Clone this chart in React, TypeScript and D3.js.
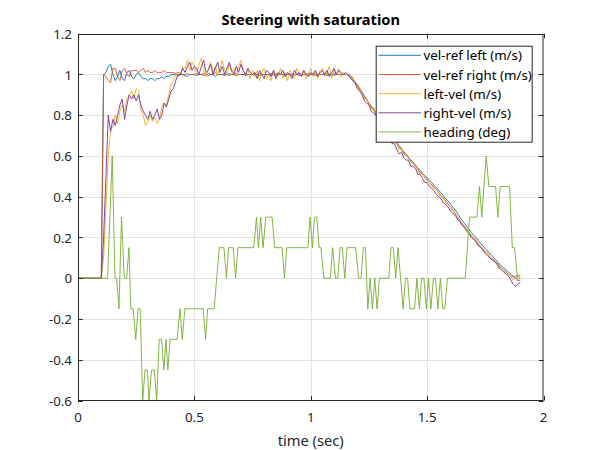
import React from "react";
import * as d3 from "d3";

// ---------- DATA ----------
const title = "Steering with saturation";
const xLabel = "time (sec)";
const xTicks = [0, 0.5, 1, 1.5, 2];
const xTickLabels = ["0", "0.5", "1", "1.5", "2"];
const yTicks = [-0.6, -0.4, -0.2, 0, 0.2, 0.4, 0.6, 0.8, 1, 1.2];
const yTickLabels = ["-0.6", "-0.4", "-0.2", "0", "0.2", "0.4", "0.6", "0.8", "1", "1.2"];
const seriesNames = ["vel-ref left (m/s)", "vel-ref right (m/s)", "left-vel (m/s)", "right-vel (m/s)", "heading (deg)"];

// velocity signals sampled every 0.01 s from t = 0 to 1.90
const sampleStep = 0.01;

const velRefLeft = [
  0, 0, 0, 0, 0, 0, 0, 0, 0, 0, 0,
  1.0, 1.01, 1.04, 1.05, 1.0, 0.97, 0.99, 1.02, 0.98, 0.97,
  1.01, 1.02, 0.99, 0.98, 1.0, 1.01, 0.99, 0.98, 0.98, 0.97,
  0.98, 0.98, 0.97, 0.98, 0.98, 0.99, 0.98, 0.99, 0.99, 1.0,
  1.0, 1.0, 0.995, 1.0, 1.0, 0.995, 0.99, 1.0, 1.0, 1.0,
  0.995, 1.0, 1.0, 1.005, 1.0, 0.995, 1.0, 1.0, 0.99, 1.0,
  1.0, 1.0, 0.995, 1.0, 1.005, 1.0, 1.0, 0.995, 1.0, 1.0,
  1.0, 0.995, 1.0, 1.0, 1.0, 1.005, 1.0, 0.995, 1.0, 1.0,
  1.0, 1.0, 1.005, 1.0, 0.995, 1.0, 1.0, 1.0, 0.995, 1.0,
  1.0, 1.005, 1.0, 1.0, 0.995, 1.0, 1.0, 1.0, 1.005, 1.0,
  1.0, 0.995, 1.0, 1.0, 1.0, 1.0, 0.995, 1.0, 1.0, 1.005,
  1.0, 1.0, 1.0, 1.0, 1.0,
  1.0, 0.995, 0.98, 0.965, 0.95, 0.93, 0.915, 0.895, 0.88, 0.86,
  0.845, 0.83, 0.81, 0.795, 0.78, 0.76, 0.745, 0.73, 0.71, 0.695,
  0.68, 0.665, 0.65, 0.635, 0.62, 0.61, 0.595, 0.58, 0.57, 0.555,
  0.54, 0.53, 0.515, 0.505, 0.495, 0.48, 0.47, 0.455, 0.445, 0.43,
  0.42, 0.405, 0.39, 0.38, 0.365, 0.35, 0.335, 0.32, 0.3, 0.285,
  0.27, 0.255, 0.24, 0.225, 0.21, 0.2, 0.185, 0.17, 0.16, 0.145,
  0.135, 0.12, 0.11, 0.095, 0.085, 0.07, 0.06, 0.05, 0.04, 0.03,
  0.02, 0.01, 0.0, -0.01, -0.01,
];

const velRefRight = [
  0, 0, 0, 0, 0, 0, 0, 0, 0, 0, 0,
  1.0, 0.99, 0.97, 0.96, 1.03, 1.03, 0.99, 0.97, 1.02, 1.03,
  1.0, 0.99, 1.02, 1.02, 1.02, 1.01, 1.02, 1.03, 1.01, 1.02,
  1.01, 1.01, 1.02, 1.01, 1.01, 1.01, 1.02, 1.01, 1.01, 1.01,
  1.01, 1.005, 1.01, 1.005, 1.0, 1.0, 1.005, 1.0, 1.0, 1.0,
  1.005, 1.0, 1.0, 0.995, 1.0, 1.005, 1.0, 1.0, 1.01, 1.0,
  1.0, 1.0, 1.005, 1.0, 0.995, 1.0, 1.0, 1.005, 1.0, 1.0,
  1.0, 1.005, 1.0, 1.0, 1.0, 0.995, 1.0, 1.005, 1.0, 1.0,
  1.0, 1.0, 0.995, 1.0, 1.005, 1.0, 1.0, 1.0, 1.005, 1.0,
  1.0, 0.995, 1.0, 1.0, 1.005, 1.0, 1.0, 1.0, 0.995, 1.0,
  1.0, 1.005, 1.0, 1.0, 1.0, 1.0, 1.005, 1.0, 1.0, 0.995,
  1.0, 1.0, 1.0, 1.0, 1.0,
  1.0, 0.99, 0.975, 0.96, 0.945, 0.925, 0.91, 0.89, 0.875, 0.855,
  0.84, 0.825, 0.805, 0.79, 0.775, 0.755, 0.74, 0.725, 0.705, 0.69,
  0.675, 0.66, 0.645, 0.63, 0.615, 0.6, 0.59, 0.575, 0.56, 0.55,
  0.535, 0.52, 0.51, 0.495, 0.485, 0.47, 0.46, 0.445, 0.435, 0.42,
  0.405, 0.395, 0.38, 0.365, 0.35, 0.335, 0.32, 0.3, 0.285, 0.27,
  0.255, 0.24, 0.225, 0.21, 0.195, 0.18, 0.17, 0.155, 0.145, 0.13,
  0.12, 0.105, 0.095, 0.085, 0.075, 0.06, 0.05, 0.04, 0.03, 0.02,
  0.01, 0.005, 0.01, 0.015, 0.01,
];

const leftVel = [
  0, 0, 0, 0, 0, 0, 0, 0, 0, 0, 0,
  0.1, 0.35, 0.6, 0.73, 0.74, 0.8, 0.76, 0.82, 0.85, 0.82,
  0.88, 0.9, 0.92, 0.88, 0.93, 0.92, 0.83, 0.8, 0.75, 0.77,
  0.8, 0.77, 0.79, 0.76, 0.78, 0.84, 0.86, 0.85, 0.9, 0.95,
  0.97, 1.0, 0.99, 1.0, 1.04, 1.03, 1.07, 1.02, 1.06, 1.04,
  1.01, 1.05, 1.08, 1.02, 0.99, 1.03, 1.06, 1.01, 1.04, 1.0,
  1.03, 1.07, 1.02, 1.0, 1.05, 1.01, 1.03, 0.99, 1.04, 1.07,
  1.02, 1.0, 1.03, 0.98, 1.02,
  0.99, 1.02, 0.97, 1.01, 1.03, 0.98, 1.0, 0.97, 1.02, 1.0,
  0.99, 1.03, 0.98, 1.01, 0.97, 1.02, 1.0, 0.98, 1.03, 1.01,
  0.99, 1.02, 0.98, 1.0, 1.03, 0.99, 1.01, 0.98, 1.02, 1.03,
  0.99, 1.01, 1.04, 0.98, 1.02, 1.0, 1.03, 0.99, 1.01, 1.0,
  1.0, 0.99, 0.99, 0.96, 0.94, 0.94, 0.91, 0.88, 0.88, 0.86,
  0.83, 0.84, 0.81, 0.78, 0.79, 0.76, 0.73, 0.74, 0.71, 0.68,
  0.69, 0.66, 0.63, 0.64, 0.61, 0.6, 0.6, 0.57, 0.56, 0.56,
  0.53, 0.51, 0.52, 0.49, 0.48, 0.47, 0.45, 0.44, 0.44, 0.41,
  0.4, 0.39, 0.37, 0.36, 0.35, 0.33, 0.32, 0.3, 0.28, 0.26,
  0.25, 0.24, 0.23, 0.2, 0.2, 0.19, 0.16, 0.16, 0.14, 0.13,
  0.13, 0.1, 0.09, 0.09, 0.07, 0.05, 0.05, 0.04, 0.02, 0.02,
  0.01, -0.01, 0.0, 0.01, 0.0,
];

const rightVel = [
  0, 0, 0, 0, 0, 0, 0, 0, 0, 0, 0,
  0.2, 0.5, 0.8, 0.72, 0.78, 0.75, 0.8, 0.85, 0.88, 0.78,
  0.85, 0.9, 0.88, 0.9, 0.87, 0.9, 0.85, 0.82, 0.8, 0.78,
  0.82, 0.78, 0.8, 0.83, 0.78, 0.8, 0.86, 0.84, 0.88, 0.92,
  0.93, 0.97, 1.0, 1.0, 1.03, 1.01, 1.04, 1.06, 1.02, 1.04,
  1.03, 1.0, 1.04, 1.07, 1.01, 1.02, 1.05, 1.0, 1.03, 1.06,
  1.01, 1.04, 1.0, 1.03, 1.06, 1.02, 1.0, 1.04, 1.01, 1.05,
  1.02, 1.0, 1.03, 1.01, 1.0,
  1.01, 0.98, 1.02, 1.0, 0.98, 1.02, 1.01, 0.99, 1.02, 0.98,
  1.01, 1.0, 1.02, 0.99, 1.01, 1.0, 0.98, 1.02, 1.0, 1.01,
  0.99, 1.02, 1.0, 0.99, 1.01, 1.0, 1.02, 0.99, 1.01, 1.02,
  1.0, 1.02, 0.99, 1.01, 1.03, 1.0, 1.02, 1.01, 1.0, 1.01,
  1.0, 0.98, 0.97, 0.96, 0.93, 0.92, 0.9, 0.87, 0.86, 0.85,
  0.82, 0.81, 0.8, 0.77, 0.76, 0.74, 0.72, 0.71, 0.69, 0.66,
  0.66, 0.63, 0.61, 0.62, 0.59, 0.58, 0.58, 0.55, 0.55, 0.54,
  0.51, 0.51, 0.49, 0.47, 0.47, 0.45, 0.44, 0.43, 0.41, 0.4,
  0.39, 0.37, 0.36, 0.35, 0.33, 0.32, 0.31, 0.29, 0.28, 0.26,
  0.25, 0.23, 0.22, 0.2, 0.19, 0.18, 0.16, 0.15, 0.14, 0.12,
  0.11, 0.1, 0.09, 0.08, 0.07, 0.05, 0.04, 0.03, 0.02, 0.01,
  -0.01, -0.03, -0.04, -0.03, -0.02,
];

// heading: vertices (time, value)
const headingTime = [
  0, 0.127, 0.147, 0.159, 0.166, 0.176, 0.187, 0.199, 0.209, 0.219,
  0.227, 0.237, 0.248, 0.258, 0.267, 0.278, 0.288, 0.298, 0.305, 0.316,
  0.328, 0.338, 0.349, 0.359, 0.369, 0.378, 0.386, 0.396, 0.426, 0.438,
  0.448, 0.459, 0.538, 0.548, 0.557, 0.585, 0.596, 0.607, 0.627, 0.638,
  0.647, 0.667, 0.677, 0.687, 0.755, 0.767, 0.775, 0.785, 0.795, 0.807,
  0.834, 0.845, 0.877, 0.887, 0.897, 0.988, 0.997, 1.007, 1.016, 1.026,
  1.036, 1.044, 1.056, 1.084, 1.094, 1.106, 1.116, 1.126, 1.136, 1.146,
  1.156, 1.193, 1.206, 1.216, 1.226, 1.235, 1.245, 1.255, 1.265, 1.275,
  1.285, 1.295, 1.335, 1.345, 1.355, 1.365, 1.375, 1.386, 1.397, 1.407,
  1.416, 1.426, 1.446, 1.456, 1.467, 1.476, 1.486, 1.497, 1.506, 1.516,
  1.527, 1.536, 1.546, 1.557, 1.567, 1.576, 1.587, 1.664, 1.673, 1.682,
  1.714, 1.725, 1.735, 1.744, 1.754, 1.765, 1.794, 1.804, 1.814, 1.854,
  1.866, 1.876, 1.888, 1.9,
];
const headingValue = [
  0, 0, 0.6, 0, 0, -0.15, 0.3, 0, 0, 0.15,
  -0.15, -0.15, -0.3, -0.15, -0.15, -0.6, -0.45, -0.45, -0.6, -0.45,
  -0.45, -0.6, -0.3, -0.3, -0.45, -0.3, -0.45, -0.3, -0.3, -0.15,
  -0.3, -0.15, -0.15, -0.3, -0.15, -0.15, 0, 0.15, 0.15, 0,
  0.15, 0.15, 0, 0.15, 0.15, 0.3, 0.15, 0.3, 0.15, 0.3,
  0.3, 0.15, 0.15, 0, 0.15, 0.15, 0.3, 0.15, 0.3, 0.3,
  0.15, 0.15, 0, 0, 0.15, 0, 0, 0.15, 0.15, 0,
  0.15, 0.15, 0, 0, 0.15, 0.15, -0.15, 0, -0.15, 0,
  -0.15, 0, 0, 0.15, 0.15, 0, 0.15, 0, -0.15, 0,
  0, -0.15, -0.15, 0, -0.15, 0, 0, -0.15, 0, -0.15,
  0, 0, -0.15, 0, -0.15, -0.15, 0, 0, 0.15, 0.3,
  0.3, 0.45, 0.3, 0.45, 0.6, 0.45, 0.45, 0.3, 0.45, 0.45,
  0.15, 0.15, 0, 0,
];

const colors = ["#0072BD", "#D95319", "#EDB120", "#7E2F8E", "#77AC30"];

// ---------- LAYOUT ----------
const W = 600;
const H = 450;
const left = 78;
const right = 543.5;
const top = 33.75;
const bottom = 400.5;
const axisColor = "#262626";
const font = "'Noto Sans', 'Open Sans', sans-serif";

export default function App() {
  const x = d3.scaleLinear().domain([0, 2]).range([left, right]);
  const y = d3.scaleLinear().domain([-0.6, 1.2]).range([bottom, top]);

  const velSeries = [velRefLeft, velRefRight, leftVel, rightVel];
  const line = d3
    .line<[number, number]>()
    .x((d) => x(d[0]))
    .y((d) => y(d[1]));

  const velPaths = velSeries.map((vals) =>
    line(vals.map((v, i) => [i * sampleStep, v] as [number, number]))
  );
  const headingPath = line(headingTime.map((t, i) => [t, headingValue[i]] as [number, number]));
  const paths = [...velPaths, headingPath];

  const tickLen = 4.65;

  const legX0 = 375.7;
  const legY0 = 45.7;
  const legW = 156;
  const legH = 96;
  const rowY = [55.3, 74.5, 93.7, 112.8, 131.9];

  return (
    <svg
      width={W}
      height={H}
      style={{ position: "absolute", left: 0, top: 0, background: "#fff" }}
      fontFamily={font}
    >
      <rect x={0} y={0} width={W} height={H} fill="#fff" />
      <defs>
        <clipPath id="plotClip">
          <rect x={left} y={top} width={right - left} height={bottom - top} />
        </clipPath>
      </defs>
      {/* grid */}
      <g stroke="#e3e3e3" strokeWidth={1}>
        {xTicks.slice(1, -1).map((t) => (
          <line key={"gx" + t} x1={Math.round(x(t)) + 0.5} x2={Math.round(x(t)) + 0.5} y1={top} y2={bottom} />
        ))}
        {yTicks.slice(1, -1).map((t) => (
          <line key={"gy" + t} x1={left} x2={right} y1={Math.round(y(t)) + 0.5} y2={Math.round(y(t)) + 0.5} />
        ))}
      </g>
      {/* data */}
      <g clipPath="url(#plotClip)" fill="none" strokeLinejoin="round">
        {paths.map((p, i) => (
          <path key={i} d={p || ""} stroke={colors[i]} strokeWidth={0.9} />
        ))}
      </g>
      {/* axes box */}
      <rect
        x={left + 0.5}
        y={Math.round(top) + 0.5}
        width={right - left - 1}
        height={Math.round(bottom) - Math.round(top) - 1}
        fill="none"
        stroke={axisColor}
        strokeWidth={1}
      />
      {/* ticks */}
      <g stroke={axisColor} strokeWidth={1}>
        {xTicks.map((t) => {
          const px = Math.round(x(t)) + 0.5;
          return (
            <g key={"tx" + t}>
              <line x1={px} x2={px} y1={bottom} y2={bottom - tickLen} />
              <line x1={px} x2={px} y1={top} y2={top + tickLen} />
            </g>
          );
        })}
        {yTicks.map((t) => {
          const py = Math.round(y(t)) + 0.5;
          return (
            <g key={"ty" + t}>
              <line x1={left} x2={left + tickLen} y1={py} y2={py} />
              <line x1={right} x2={right - tickLen} y1={py} y2={py} />
            </g>
          );
        })}
      </g>
      {/* tick labels */}
      <g fill={axisColor} fontSize={13.33}>
        {xTicks.map((t, i) => (
          <text key={"lx" + t} x={x(t)} y={421.5} textAnchor="middle">
            {xTickLabels[i]}
          </text>
        ))}
        {yTicks.map((t, i) => (
          <text key={"ly" + t} x={72} y={y(t)} textAnchor="end" dominantBaseline="central">
            {yTickLabels[i]}
          </text>
        ))}
      </g>
      {/* labels */}
      <text x={(left + right) / 2} y={445.5} textAnchor="middle" fontSize={14.67} fill={axisColor}>
        {xLabel}
      </text>
      <text x={(left + right) / 2} y={24.5} textAnchor="middle" fontSize={14.67} fontWeight="bold" fill="#000">
        {title}
      </text>
      {/* legend */}
      <g>
        <rect x={legX0 + 0.5} y={legY0 + 0.5} width={legW} height={legH} fill="#fff" stroke={axisColor} strokeWidth={1} />
        {seriesNames.map((name, i) => (
          <g key={name}>
            <line x1={378.5} x2={421} y1={rowY[i]} y2={rowY[i]} stroke={colors[i]} strokeWidth={0.9} />
            <text x={423.5} y={rowY[i]} dominantBaseline="central" fontSize={13.33} fill="#000">
              {name}
            </text>
          </g>
        ))}
      </g>
    </svg>
  );
}
